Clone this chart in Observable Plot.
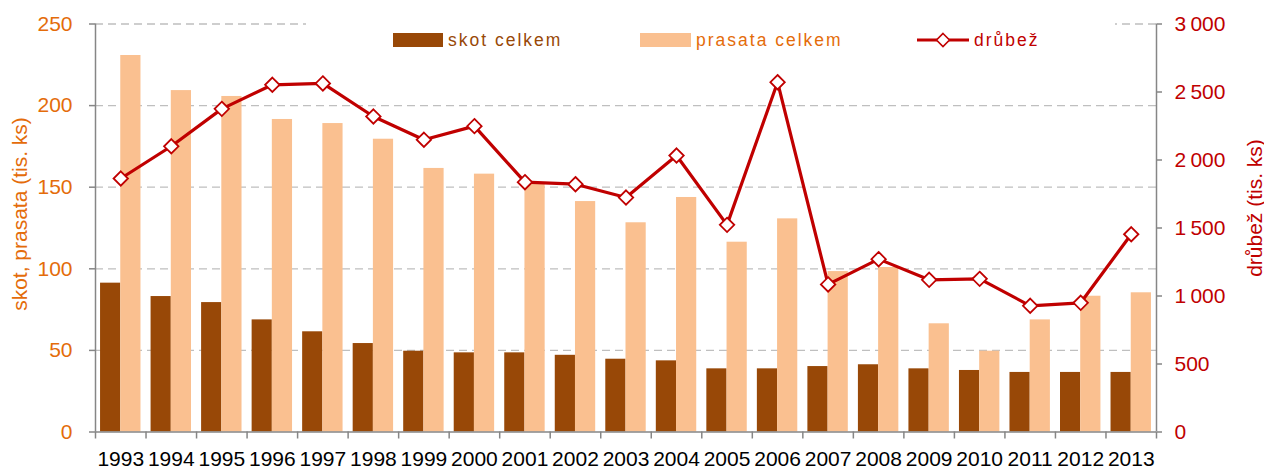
<!DOCTYPE html>
<html>
<head>
<meta charset="utf-8">
<script src="https://cdn.jsdelivr.net/npm/d3@7"></script>
<script src="https://cdn.jsdelivr.net/npm/@observablehq/plot@0.6"></script>
<style>
  html, body { margin: 0; padding: 0; background: #fff; }
  #wrap { position: relative; width: 1264px; height: 468px; font-family: "Liberation Sans", Arial, sans-serif; }
  #legend { position: absolute; left: 306px; top: 14px; width: 809px; height: 40px; background: #fff; }
  .sw { position: absolute; }
  .lt { position: absolute; font-size: 17.5px; line-height: 20px; white-space: nowrap; letter-spacing: 2px; }
</style>
</head>
<body>
<div id="wrap">
  <div id="chart"></div>
  <div id="legend">
    <div class="sw" style="left:87px;top:19px;width:50px;height:14px;background:#984807"></div>
    <div class="lt" style="left:142px;top:16px;color:#984807">skot celkem</div>
    <div class="sw" style="left:334px;top:19px;width:51px;height:14px;background:#FAC090"></div>
    <div class="lt" style="left:390px;top:16px;color:#E46C0A">prasata celkem</div>
    <svg class="sw" style="left:611px;top:16px" width="52" height="20">
      <line x1="0" y1="10" x2="52" y2="10" stroke="#C00000" stroke-width="3"/>
      <path d="M26,3.5 L32.5,10 L26,16.5 L19.5,10 Z" fill="#fff" stroke="#C00000" stroke-width="1.6"/>
    </svg>
    <div class="lt" style="left:668px;top:16px;color:#C00000">drůbež</div>
  </div>
</div>
<script>
const years = ["1993","1994","1995","1996","1997","1998","1999","2000","2001","2002","2003","2004","2005","2006","2007","2008","2009","2010","2011","2012","2013"];
const skot = [91.2, 83.0, 79.3, 68.7, 61.4, 54.2, 49.5, 48.5, 48.5, 47.0, 44.6, 43.6, 38.7, 38.7, 40.1, 41.2, 38.7, 37.7, 36.5, 36.5, 36.5];
const prasata = [230.7, 209.2, 205.6, 191.5, 189.0, 179.4, 161.5, 158.0, 152.5, 141.2, 128.2, 143.7, 116.3, 130.6, 98.3, 100.8, 66.3, 49.5, 68.7, 83.2, 85.3];
const drubez = [1864, 2101, 2376, 2553, 2563, 2320, 2149, 2249, 1837, 1822, 1724, 2033, 1523, 2572, 1085, 1271, 1119, 1126, 928, 950, 1454];
const leftTicks = [0, 50, 100, 150, 200, 250];
const rightTicks = [0, 500, 1000, 1500, 2000, 2500, 3000];
const gridTicks = [50, 100, 150, 200, 250];

const W = 1264, H = 468;
const mL = 95, mR = 108, mT = 23.5, mB = 36.5;
const ratio = 3000 / 250;
const pIn = 0.2, pOut = 0.1;
const step = (W - mL - mR) / (years.length - pIn + 2 * pOut);
const bw = step * (1 - pIn);

const rows = years.map((y, i) => ({year: y, skot: skot[i], prasata: prasata[i], drubez: drubez[i], d2: drubez[i] / ratio}));
const fmtR = v => { const n = Math.round(v * ratio); return n >= 1000 ? d3.format(",")(n).replace(/,/g, "\u2009") : String(n); };

const gray = "#868686";
const chart = Plot.plot({
  width: W, height: H,
  marginLeft: mL, marginRight: mR, marginTop: mT, marginBottom: mB,
  style: {fontFamily: '"Liberation Sans", Arial, sans-serif', fontSize: "21px", background: "#fff", overflow: "visible"},
  x: {type: "band", domain: years, paddingInner: pIn, paddingOuter: pOut, round: false, axis: null},
  y: {domain: [0, 250], axis: null},
  marks: [
    Plot.ruleY(gridTicks, {stroke: "#BFBFBF", strokeWidth: 1.3, strokeDasharray: "8,5"}),
    Plot.barY(rows, {x: "year", y: "skot", fill: "#984807", insetRight: bw / 2}),
    Plot.barY(rows, {x: "year", y: "prasata", fill: "#FAC090", insetLeft: bw / 2}),
    Plot.ruleY([0], {stroke: gray, strokeWidth: 1.5}),
    Plot.ruleX([years[0]], {x: d => d, y1: 0, y2: 250, dx: -step / 2, stroke: gray, strokeWidth: 1.5}),
    Plot.ruleX([years[years.length - 1]], {x: d => d, y1: 0, y2: 250, dx: step / 2, stroke: gray, strokeWidth: 1.5}),
    Plot.ruleX(years, {x: d => d, y1: 0, y2: 0, insetBottom: -7, dx: -step / 2, stroke: gray, strokeWidth: 1.5}),
    Plot.ruleX([years[years.length - 1]], {x: d => d, y1: 0, y2: 0, insetBottom: -7, dx: step / 2, stroke: gray, strokeWidth: 1.5}),
    Plot.axisY({anchor: "left", ticks: leftTicks, tickSize: 6, tickPadding: 17, stroke: gray, fill: "#E46C0A", fontSize: 21, label: null, strokeWidth: 1.5}),
    Plot.axisY({anchor: "right", ticks: rightTicks.map(v => v / ratio), tickFormat: fmtR, tickSize: 5, tickPadding: 13, stroke: gray, fill: "#C00000", fontSize: 21, label: null, strokeWidth: 1.5}),
    Plot.axisX({ticks: years, tickSize: 0, tickPadding: 19, fill: "#000", fontSize: 21, label: null}),
    Plot.line(rows, {x: "year", y: "d2", stroke: "#C00000", strokeWidth: 3.2}),
    Plot.dot(rows, {x: "year", y: "d2", symbol: "diamond2", r: 6.5, fill: "#fff", stroke: "#C00000", strokeWidth: 1.8}),
    Plot.text(["skot, prasata (tis. ks)"], {frameAnchor: "left", textAnchor: "middle", rotate: -90, dx: -75, dy: -14, fill: "#E46C0A", fontSize: 21}),
    Plot.text(["drůbež (tis. ks)"], {frameAnchor: "right", textAnchor: "middle", rotate: -90, dx: 99, dy: -20, fill: "#C00000", fontSize: 21})
  ]
});
document.getElementById("chart").appendChild(chart);
</script>
</body>
</html>
